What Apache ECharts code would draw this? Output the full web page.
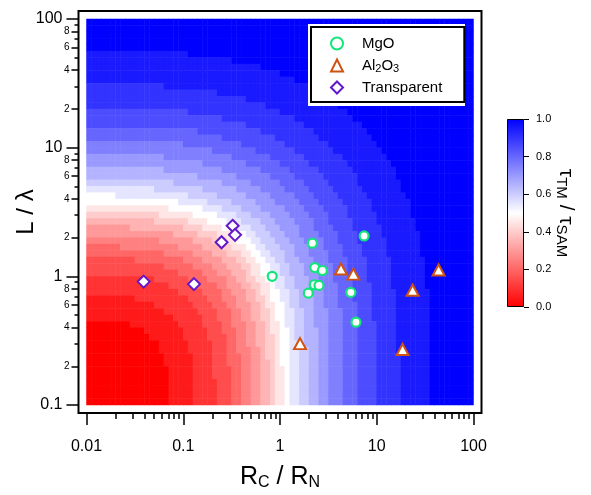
<!DOCTYPE html>
<html>
<head>
    <meta charset="utf-8">
    <title>tau TM / tau SAM map</title>
    <script src="https://cdn.jsdelivr.net/npm/echarts@6.0.0/dist/echarts.min.js"></script>
    <style>
        * { margin: 0; padding: 0 }
        html, body { background: #fff; }
        #chart { width: 591px; height: 495px; }
    </style>
</head>
<body>
<div id="chart"></div>
<script>
    // axis ranges and ticks
    var xMin = 0.01, xMax = 100, yMin = 0.1, yMax = 100;
    var xMajorTicks = [0.01, 0.1, 1, 10, 100];
    var xMinorTicks = [0.02, 0.03, 0.04, 0.05, 0.06, 0.07, 0.08, 0.09,
        0.2, 0.3, 0.4, 0.5, 0.6, 0.7, 0.8, 0.9,
        2, 3, 4, 5, 6, 7, 8, 9,
        20, 30, 40, 50, 60, 70, 80, 90];
    var yMajorTicks = [0.1, 1, 10, 100];
    var yLabeledMinorTicks = [0.2, 0.4, 0.6, 0.8, 2, 4, 6, 8, 20, 40, 60, 80];
    var yPlainMinorTicks = [0.3, 0.5, 0.7, 0.9, 3, 5, 7, 9, 30, 50, 70, 90];

    // measured points
    var mgoX = [0.83, 2.16, 7.4, 2.29, 2.74, 2.26, 2.53, 1.96, 5.4, 6.1];
    var mgoY = [1.0, 1.81, 2.06, 1.17, 1.11, 0.86, 0.85, 0.74, 0.75, 0.44];
    var al2o3X = [4.27, 5.73, 43.6, 23.5, 1.61, 18.5];
    var al2o3Y = [1.14, 1.04, 1.12, 0.78, 0.30, 0.27];
    var transX = [0.039, 0.129, 0.249, 0.324, 0.343];
    var transY = [0.91, 0.87, 1.84, 2.47, 2.10];

    // tau_TM / tau_SAM background, 80 columns x 60 rows
    // (0.05 decade each), rows from top (L = 100) to bottom (L = 0.1).
    // each row is run-length coded: letter = level (a = 0.00, b = 0.05 ... u = 1.00), number = cells
    var tauLevelChars = 'abcdefghijklmnopqrstu';
    var tauRows = [
        'u80',
        'u80',
        'u80',
        'u80',
        'u80',
        't21 u59',
        't30 u50',
        't36 u44',
        't40 u40',
        't43 u37',
        's16 t30 u34',
        's27 t21 u32',
        's33 t17 u30',
        's37 t15 u28',
        'r21 s19 t14 u26',
        'r28 s15 t12 u25',
        'r33 s12 t12 u23',
        'q23 r13 s11 t11 u22',
        'q28 r11 s9 t11 u21',
        'p20 q12 r9 s9 t10 u20',
        'p26 q9 r8 s8 t10 u19',
        'o16 p14 q8 r7 s8 t9 u18',
        'o24 p9 q7 r6 s8 t9 u17',
        'n16 o12 p8 q6 r6 s7 t9 u16',
        'n23 o8 p7 q5 r6 s7 t8 u16',
        'm18 n10 o6 p6 q5 r5 s6 t9 u15',
        'l14 m10 n7 o5 p5 q5 r5 s6 t8 u15',
        'k6 l15 m6 n6 o5 p5 q4 r5 s6 t8 u14',
        'k19 l6 m5 n5 o4 p5 q4 r5 s6 t8 u13',
        'j17 k7 l4 m4 n4 o5 p4 q4 r5 s5 t8 u13',
        'i15 j7 k5 l4 m3 n4 o4 p4 q4 r4 s6 t7 u13',
        'h14 i7 j4 k4 l3 m4 n3 o4 p4 q3 r5 s5 t8 u12',
        'g9 h11 i4 j4 k3 l3 m3 n3 o4 p3 q4 r4 s6 t7 u12',
        'g18 h5 i4 j3 k3 l2 m3 n3 o3 p4 q4 r4 s5 t8 u11',
        'f15 g7 h4 i3 j2 k3 l2 m3 n3 o3 p4 q3 r4 s6 t7 u11',
        'e7 f12 g5 h4 i2 j3 k2 l2 m3 n3 o3 p3 q4 r4 s5 t7 u11',
        'e16 f6 g4 h3 i3 j2 k2 l2 m3 n2 o3 p4 q3 r4 s5 t7 u11',
        'd10 e10 f4 g4 h3 i2 j2 k2 l2 m2 n3 o3 p3 q4 r4 s5 t7 u10',
        'd16 e6 f4 g3 h3 i2 j2 k2 l2 m2 n3 o2 p4 q3 r4 s5 t7 u10',
        'd19 e5 f3 g3 h3 i1 j2 k2 l2 m2 n3 o3 p3 q3 r4 s5 t7 u10',
        'c14 d7 e4 f4 g2 h2 i2 j2 k2 l2 m2 n3 o2 p3 q4 r3 s5 t7 u10',
        'c17 d6 e4 f2 g3 h2 i2 j2 k1 l2 m2 n3 o3 p3 q3 r4 s4 t7 u10',
        'c19 d5 e4 f2 g3 h2 i1 j2 k2 l2 m2 n2 o3 p3 q3 r4 s5 t7 u9',
        'b10 c11 d4 e3 f3 g2 h2 i2 j1 k2 l2 m2 n3 o2 p3 q3 r4 s5 t7 u9',
        'b14 c8 d4 e3 f2 g3 h2 i1 j2 k2 l1 m2 n3 o2 p3 q4 r3 s5 t7 u9',
        'b16 c7 d4 e3 f2 g2 h2 i2 j1 k2 l2 m2 n2 o3 p3 q3 r3 s5 t7 u9',
        'b18 c6 d3 e3 f2 g2 h2 i2 j1 k2 l2 m2 n2 o3 p3 q3 r3 s5 t7 u9',
        'a9 b10 c5 d4 e2 f3 g2 h2 i1 j2 k1 l2 m2 n2 o3 p3 q3 r4 s4 t7 u9',
        'a12 b8 c5 d3 e3 f2 g2 h2 i1 j2 k2 l1 m2 n3 o2 p3 q3 r4 s4 t7 u9',
        'a13 b7 c5 d4 e2 f2 g2 h2 i2 j1 k2 l1 m2 n3 o2 p3 q3 r4 s4 t7 u9',
        'a15 b6 c5 d3 e2 f2 g2 h2 i2 j1 k2 l2 m1 n3 o2 p3 q3 r4 s4 t7 u9',
        'a15 b6 c5 d3 e2 f3 g2 h1 i2 j1 k2 l2 m2 n2 o2 p3 q3 r4 s4 t7 u9',
        'a16 b6 c4 d3 e3 f2 g2 h1 i2 j1 k2 l2 m2 n2 o2 p3 q3 r4 s5 t6 u9',
        'a16 b6 c4 d3 e3 f2 g2 h2 i1 j1 k2 l2 m2 n2 o2 p3 q3 r4 s5 t6 u9',
        'a17 b5 c4 d4 e2 f2 g2 h2 i1 j2 k1 l2 m2 n2 o2 p3 q3 r4 s5 t6 u9',
        'a17 b5 c4 d4 e2 f2 g2 h2 i1 j2 k1 l2 m2 n2 o2 p3 q3 r4 s5 t6 u9',
        'a17 b5 c5 d3 e2 f2 g2 h2 i1 j2 k1 l2 m2 n2 o2 p3 q3 r4 s5 t6 u9',
        'a17 b5 c5 d3 e2 f2 g2 h2 i1 j2 k1 l2 m2 n2 o2 p3 q3 r4 s5 t6 u9',
        'a17 b5 c5 d3 e2 f2 g2 h2 i1 j2 k1 l2 m2 n2 o2 p3 q3 r4 s5 t6 u9',
        'a17 b5 c5 d3 e2 f2 g2 h2 i1 j2 k1 l2 m2 n2 o2 p3 q3 r4 s5 t6 u9'
    ];
    var tauColCount = 80;

    var colorLow = '#ff0000', colorMid = '#ffffff', colorHigh = '#0000ff';
    var mgoColor = '#12e67a', al2o3Color = '#cf5312', transColor = '#6417c8';
    var FONT = '"Liberation Sans", Arial, sans-serif';

    // plot box
    var plotLeft = 86.5, plotTop = 19, plotW = 387, plotH = 386, gap = 8;

    function expandRow(code) {
        var cells = [];
        code.split(' ').forEach(function (tok) {
            var level = tauLevelChars.indexOf(tok.charAt(0));
            var n = parseInt(tok.slice(1), 10);
            for (var q = 0; q < n; q++) cells.push(level / 20);
        });
        return cells;
    }

    var tauData = [];
    for (var r = 0; r < tauRows.length; r++) {
        var rowIdx = tauRows.length - 1 - r;
        var cells = expandRow(tauRows[r]);
        for (var j = 0; j < cells.length; j++) {
            tauData.push([j, rowIdx, cells[j]]);
        }
    }
    var tauColCats = [], tauRowCats = [];
    for (var c = 0; c < tauColCount; c++) tauColCats.push(String(c));
    for (var c2 = 0; c2 < tauRows.length; c2++) tauRowCats.push(String(c2));

    function pairs(xs, ys) {
        var out = [];
        for (var k = 0; k < xs.length; k++) out.push([xs[k], ys[k]]);
        return out;
    }
    function decadeLabel(v) {
        return String(+v.toPrecision(4));
    }
    function digitLabel(v) {
        var e = Math.floor(Math.log(v) / Math.LN10 + 1e-9);
        return String(Math.round(v / Math.pow(10, e)));
    }

    var tickLine = { color: '#000', width: 1.5 };
    var subRich = { sub: { fontSize: 16, lineHeight: 12, verticalAlign: 'bottom', fontFamily: FONT, color: '#000' } };

    var chart = echarts.init(document.getElementById('chart'));
    chart.setOption({
        animation: false,
        backgroundColor: '#fff',
        textStyle: { fontFamily: FONT },
        grid: [
            { left: plotLeft, top: plotTop, width: plotW, height: plotH, outerBoundsMode: 'none' },
            { left: plotLeft, top: plotTop, width: plotW, height: plotH, outerBoundsMode: 'none' },
            { left: 507, top: 119, width: 17, height: 188, outerBoundsMode: 'none' }
        ],
        visualMap: {
            show: false, type: 'continuous', min: 0, max: 1, seriesIndex: 0,
            inRange: { color: [colorLow, colorMid, colorHigh] }
        },
        legend: {
            data: ['MgO', 'Al2O3', 'Transparent'],
            orient: 'vertical', left: 311, top: 27, z: 10,
            itemWidth: 12, itemHeight: 12, itemGap: 5,
            padding: [8, 22, 6, 19],
            backgroundColor: '#fff', borderColor: '#000', borderWidth: 2,
            formatter: function (name) {
                return name === 'Al2O3' ? 'Al{sub|2}O{sub|3}' : name;
            },
            textStyle: {
                fontSize: 15, color: '#000', fontFamily: FONT, lineHeight: 17, padding: [0, 0, 0, 14],
                rich: { sub: { fontSize: 11, lineHeight: 9, verticalAlign: 'bottom', fontFamily: FONT, color: '#000' } }
            }
        },
        graphic: [
            {
                type: 'rect', z: 20, silent: true,
                shape: { x: plotLeft - gap, y: plotTop - gap, width: plotW + 2 * gap, height: plotH + 2 * gap },
                style: { fill: 'none', stroke: '#000', lineWidth: 2 }
            },
            {
                type: 'rect', z: 3, silent: true,
                shape: { x: 308, y: 24, width: 157, height: 82 },
                style: { fill: '#fff' }
            }
        ],
        xAxis: [
            {
                gridIndex: 0, type: 'log', logBase: 10, min: xMin, max: xMax, position: 'bottom', offset: gap,
                axisLine: { show: false, onZero: false }, splitLine: { show: false },
                axisTick: { show: true, customValues: xMajorTicks, length: 12, lineStyle: tickLine },
                axisLabel: { customValues: xMajorTicks, margin: 26, fontSize: 16, color: '#000', fontFamily: FONT, formatter: decadeLabel },
                name: 'R{sub|C} / R{sub|N}', nameLocation: 'middle', nameGap: 50, nameMoveOverlap: false,
                nameTextStyle: { fontSize: 25, lineHeight: 28, color: '#000', fontFamily: FONT, rich: subRich }
            },
            {
                gridIndex: 0, type: 'log', logBase: 10, min: xMin, max: xMax, position: 'bottom', offset: gap,
                axisLine: { show: false, onZero: false }, splitLine: { show: false },
                axisTick: { show: true, customValues: xMinorTicks, length: 6, lineStyle: tickLine },
                axisLabel: { show: false }
            },
            { gridIndex: 1, type: 'category', data: tauColCats, show: false },
            { gridIndex: 2, type: 'category', data: ['bar'], show: false }
        ],
        yAxis: [
            {
                gridIndex: 0, type: 'log', logBase: 10, min: yMin, max: yMax, position: 'left', offset: gap,
                axisLine: { show: false, onZero: false }, splitLine: { show: false },
                axisTick: { show: true, customValues: yMajorTicks, length: 12, lineStyle: tickLine },
                axisLabel: { customValues: yMajorTicks, margin: 16, fontSize: 16, color: '#000', fontFamily: FONT, formatter: decadeLabel },
                name: 'L / λ', nameLocation: 'middle', nameGap: 40, nameRotate: 90, nameMoveOverlap: false,
                nameTextStyle: { fontSize: 24, color: '#000', fontFamily: FONT }
            },
            {
                gridIndex: 0, type: 'log', logBase: 10, min: yMin, max: yMax, position: 'left', offset: gap,
                axisLine: { show: false, onZero: false }, splitLine: { show: false },
                axisTick: { show: true, customValues: yLabeledMinorTicks, length: 7, lineStyle: tickLine },
                axisLabel: { customValues: yLabeledMinorTicks, margin: 9, fontSize: 10, color: '#000', fontFamily: FONT, formatter: digitLabel }
            },
            {
                gridIndex: 0, type: 'log', logBase: 10, min: yMin, max: yMax, position: 'left', offset: gap,
                axisLine: { show: false, onZero: false }, splitLine: { show: false },
                axisTick: { show: true, customValues: yPlainMinorTicks, length: 4, lineStyle: tickLine },
                axisLabel: { show: false }
            },
            { gridIndex: 1, type: 'category', data: tauRowCats, show: false },
            {
                gridIndex: 2, type: 'value', min: 0, max: 1, interval: 0.2, position: 'right',
                axisLine: { show: false }, splitLine: { show: false },
                axisTick: { show: true, length: 5, lineStyle: { color: '#000', width: 1 } },
                axisLabel: { margin: 12, fontSize: 11, color: '#000', fontFamily: FONT, formatter: function (v) { return v.toFixed(1); } },
                name: 'τ{sub|TM} / τ{sub|SAM}', nameLocation: 'middle', nameGap: 30, nameRotate: -90, nameMoveOverlap: false,
                nameTextStyle: {
                    fontSize: 21, lineHeight: 24, color: '#000', fontFamily: FONT,
                    rich: { sub: { fontSize: 15, lineHeight: 10, verticalAlign: 'bottom', fontFamily: FONT, color: '#000' } }
                }
            }
        ],
        series: [
            {
                name: 'tau', type: 'heatmap', xAxisIndex: 2, yAxisIndex: 3, data: tauData,
                z: 1, silent: true, itemStyle: { borderWidth: 0 }, emphasis: { disabled: true }
            },
            {
                name: 'MgO', type: 'scatter', xAxisIndex: 0, yAxisIndex: 0, z: 5,
                symbol: 'circle', symbolSize: 9,
                itemStyle: { color: '#fff', borderColor: mgoColor, borderWidth: 2.2, opacity: 1 },
                data: pairs(mgoX, mgoY)
            },
            {
                name: 'Al2O3', type: 'scatter', xAxisIndex: 0, yAxisIndex: 0, z: 5,
                symbol: 'triangle', symbolSize: [12, 11],
                itemStyle: { color: '#fff', borderColor: al2o3Color, borderWidth: 2, opacity: 1 },
                data: pairs(al2o3X, al2o3Y)
            },
            {
                name: 'Transparent', type: 'scatter', xAxisIndex: 0, yAxisIndex: 0, z: 5,
                symbol: 'diamond', symbolSize: 12,
                itemStyle: { color: '#fff', borderColor: transColor, borderWidth: 2, opacity: 1 },
                data: pairs(transX, transY)
            },
            {
                name: 'colorbar', type: 'bar', xAxisIndex: 3, yAxisIndex: 4, data: [1], barWidth: '100%',
                silent: true,
                itemStyle: {
                    color: {
                        type: 'linear', x: 0, y: 1, x2: 0, y2: 0,
                        colorStops: [{ offset: 0, color: colorLow }, { offset: 0.5, color: colorMid }, { offset: 1, color: colorHigh }]
                    },
                    borderColor: '#000', borderWidth: 1
                }
            }
        ]
    });
</script>
</body>
</html>
